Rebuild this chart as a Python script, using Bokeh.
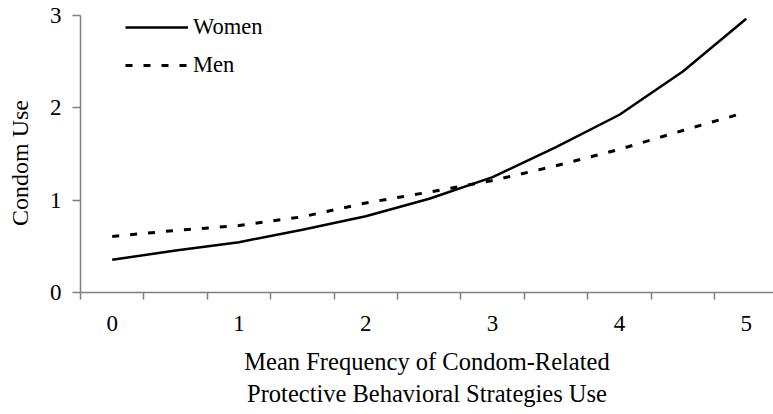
from bokeh.plotting import figure
from bokeh.models import FixedTicker, Legend, LegendItem, ColumnDataSource
from bokeh.embed import file_html
from bokeh.resources import INLINE

# ---- data ----
x_values = [0, 0.5, 1, 1.5, 2, 2.5, 3, 3.5, 4, 4.5, 5]
women = [0.354, 0.455, 0.545, 0.68, 0.825, 1.015, 1.25, 1.575, 1.925, 2.394, 2.965]
men = [0.607, 0.672, 0.725, 0.82, 0.97, 1.087, 1.213, 1.372, 1.55, 1.755, 1.953]
x_tick_labels = [0, 1, 2, 3, 4, 5]
y_ticks = [0, 1, 2, 3]
series_names = ["Women", "Men"]
x_title = "Mean Frequency of Condom-Related\nProtective Behavioral Strategies Use"
y_title = "Condom Use"

FONT = "Liberation Serif"
AXIS_COLOR = "#7f7f7f"

src = ColumnDataSource(dict(x=x_values, women=women, men=men))

p = figure(
    frame_width=693, frame_height=277,
    x_range=(-0.25, 5.215), y_range=(0, 3),
    output_backend="svg", toolbar_location=None,
    min_border_left=80, min_border_right=0, min_border_top=15, min_border_bottom=114,
)
p.outline_line_color = None
p.grid.visible = False
p.background_fill_color = "white"
p.border_fill_color = "white"

r_w = p.line("x", "women", source=src, line_color="black", line_width=2.5)
r_m = p.line("x", "men", source=src, line_color="black", line_width=3, line_dash="7 11")

# x axis: labels at category centers, tick marks between categories
boundaries = [-0.25 + 0.5 * k for k in range(12)]
xa = p.xaxis[0]
xa.ticker = FixedTicker(ticks=x_tick_labels, minor_ticks=boundaries)
xa.major_tick_out = 0
xa.major_tick_in = 0
xa.minor_tick_out = 7
xa.minor_tick_in = 0
xa.minor_tick_line_color = AXIS_COLOR
xa.minor_tick_line_width = 1.5
xa.axis_line_color = AXIS_COLOR
xa.axis_line_width = 1.5
xa.major_label_text_font = FONT
xa.major_label_text_font_size = "23px"
xa.major_label_text_color = "black"
xa.major_label_standoff = 16
xa.axis_label = x_title
xa.axis_label_text_font = FONT
xa.axis_label_text_font_size = "24.5px"
xa.axis_label_text_font_style = "normal"
xa.axis_label_text_color = "black"
xa.axis_label_standoff = 14

ya = p.yaxis[0]
ya.ticker = FixedTicker(ticks=y_ticks, minor_ticks=[])
ya.major_tick_out = 8
ya.major_tick_in = 0
ya.major_tick_line_color = AXIS_COLOR
ya.major_tick_line_width = 1.5
ya.axis_line_color = AXIS_COLOR
ya.axis_line_width = 1.5
ya.major_label_text_font = FONT
ya.major_label_text_font_size = "23px"
ya.major_label_text_color = "black"
ya.major_label_standoff = 11
# trailing no-break spaces shift the rotated title slightly down, as in the reference
ya.axis_label = y_title + "\u00a0\u00a0\u00a0"
ya.axis_label_text_font = FONT
ya.axis_label_text_font_size = "24px"
ya.axis_label_text_font_style = "normal"
ya.axis_label_text_color = "black"
ya.axis_label_standoff = 14

legend = Legend(
    items=[LegendItem(label=series_names[0], renderers=[r_w]),
           LegendItem(label=series_names[1], renderers=[r_m])],
    location=(45, 212), padding=0, spacing=8, margin=0,
    glyph_width=63, glyph_height=30, label_height=30, label_standoff=5,
    border_line_color=None, background_fill_alpha=0,
    label_text_font=FONT, label_text_font_size="22.5px", label_text_color="black",
)
p.add_layout(legend)

open("out.html", "w").write(file_html(p, INLINE))
